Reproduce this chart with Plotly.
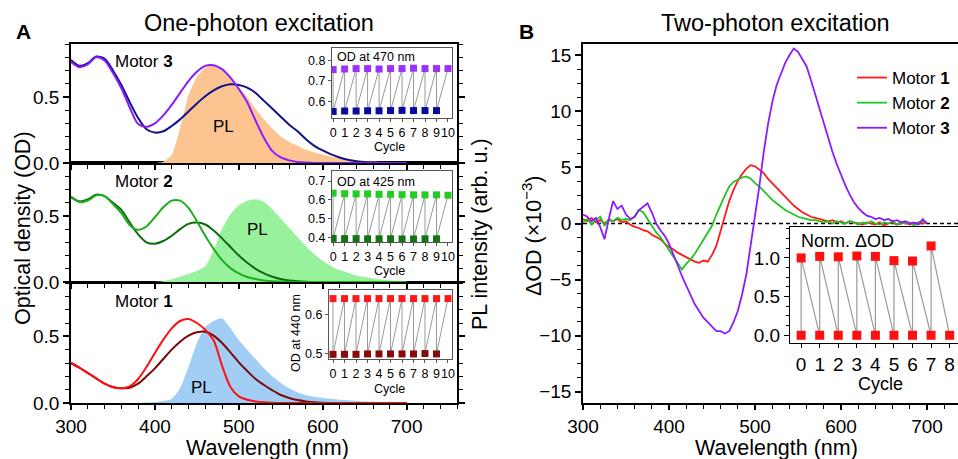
import plotly.graph_objects as go

W, H = 958, 459

# ---------------- panel A: one-photon spectra, read every 10 nm ----------------
wl_a = list(range(300, 710, 10))

# Motor 3 (OD) - two isomers + PL
m3_violet = [0.765, 0.725, 0.745, 0.800, 0.775, 0.680, 0.565, 0.420, 0.295, 0.275,
             0.300, 0.360, 0.440, 0.530, 0.620, 0.690, 0.735, 0.740, 0.710, 0.645,
             0.560, 0.460, 0.320, 0.190, 0.090, 0.042, 0.020, 0.008, 0.003, 0,
             0, 0, 0, 0, 0, 0, 0, 0, 0, 0, 0]
m3_navy = [0.780, 0.735, 0.755, 0.805, 0.790, 0.700, 0.590, 0.460, 0.340, 0.255,
           0.230, 0.240, 0.280, 0.330, 0.390, 0.450, 0.505, 0.550, 0.580, 0.595,
           0.590, 0.570, 0.530, 0.470, 0.410, 0.350, 0.290, 0.240, 0.180, 0.130,
           0.095, 0.065, 0.042, 0.025, 0.014, 0.007, 0.003, 0.001, 0, 0, 0]
m3_pl = [0, 0, 0, 0, 0, 0, 0, 0, 0, 0,
         0.0, 0.01, 0.06, 0.26, 0.51, 0.65, 0.72, 0.74, 0.70, 0.64,
         0.57, 0.50, 0.41, 0.33, 0.26, 0.20, 0.16, 0.13, 0.10, 0.08,
         0.065, 0.05, 0.04, 0.03, 0.022, 0.016, 0.011, 0.007, 0.004, 0.002, 0]

# Motor 2
m2_light = [0.640, 0.605, 0.615, 0.655, 0.650, 0.590, 0.520, 0.430, 0.395, 0.420,
            0.490, 0.565, 0.615, 0.615, 0.560, 0.460, 0.350, 0.250, 0.165, 0.105,
            0.065, 0.038, 0.022, 0.012, 0.006, 0.003, 0.001, 0, 0, 0,
            0, 0, 0, 0, 0, 0, 0, 0, 0, 0, 0]
m2_dark = [0.645, 0.610, 0.625, 0.660, 0.650, 0.600, 0.545, 0.450, 0.360, 0.300,
           0.290, 0.310, 0.350, 0.400, 0.440, 0.450, 0.435, 0.390, 0.330, 0.265,
           0.200, 0.145, 0.100, 0.065, 0.040, 0.022, 0.012, 0.006, 0.002, 0,
           0, 0, 0, 0, 0, 0, 0, 0, 0, 0, 0]
m2_pl = [0, 0, 0, 0, 0, 0, 0, 0, 0, 0,
         0.0, 0.005, 0.02, 0.04, 0.06, 0.085, 0.12, 0.24, 0.40, 0.51,
         0.58, 0.615, 0.625, 0.605, 0.55, 0.48, 0.41, 0.34, 0.27, 0.21,
         0.16, 0.12, 0.09, 0.07, 0.05, 0.037, 0.026, 0.018, 0.011, 0.006, 0]

# Motor 1
m1_red = [0.300, 0.265, 0.225, 0.185, 0.145, 0.118, 0.110, 0.125, 0.180, 0.270,
          0.375, 0.475, 0.560, 0.615, 0.630, 0.600, 0.550, 0.470, 0.280, 0.120,
          0.050, 0.025, 0.012, 0.005, 0.002, 0, 0, 0, 0, 0,
          0, 0, 0, 0, 0, 0, 0, 0, 0, 0, 0]
m1_dark = [0.300, 0.265, 0.225, 0.185, 0.145, 0.120, 0.110, 0.115, 0.145, 0.200,
           0.260, 0.330, 0.400, 0.460, 0.505, 0.530, 0.535, 0.505, 0.450, 0.380,
           0.305, 0.240, 0.180, 0.135, 0.095, 0.060, 0.038, 0.022, 0.012, 0.005,
           0.002, 0, 0, 0, 0, 0, 0, 0, 0, 0, 0]
m1_pl = [0, 0, 0, 0, 0, 0, 0, 0, 0.0, 0.003,
         0.008, 0.015, 0.03, 0.11, 0.27, 0.45, 0.57, 0.615, 0.635, 0.56,
         0.47, 0.40, 0.33, 0.26, 0.20, 0.15, 0.11, 0.08, 0.06, 0.047,
         0.038, 0.031, 0.025, 0.02, 0.015, 0.011, 0.008, 0.005, 0.003, 0.001, 0]

# ---------------- panel B: two-photon dOD (x1e-3), read every 5 nm ----------------
wl_b = list(range(300, 705, 5))
dod_m1 = [0.4, 0.2, 0.5, 0.1, 0.3, 0.0, 0.3, 0.2, 0.4, 0.1,
          0.2, -0.1, -0.3, -0.4, -0.6, -0.7, -1.0, -1.2, -1.4, -1.8,
          -2.1, -2.3, -2.6, -2.8, -3.0, -3.2, -3.4, -3.5, -3.3, -3.4,
          -2.8, -2.0, -0.7, 0.6, 2.0, 3.0, 3.8, 4.4, 4.9, 5.2,
          5.1, 4.8, 4.5, 4.0, 3.6, 3.2, 2.8, 2.4, 2.0, 1.6,
          1.3, 1.0, 0.8, 0.6, 0.5, 0.4, 0.3, 0.2, 0.3, 0.1,
          0.2, 0.0, 0.2, 0.1, 0.0, -0.1, 0.1, 0.0, -0.1, 0.1,
          -0.2, 0.0, 0.1, -0.1, 0.0, 0.1, -0.1, 0.0, 0.1, 0.0,
          0.1]
dod_m2 = [0.1, 0.4, -0.1, 0.3, 0.6, -0.2, 0.4, 0.2, 0.5, 0.3,
          0.4, 0.3, 0.6, 1.2, 1.0, 0.4, -0.3, -0.8, -1.2, -1.8,
          -2.4, -2.9, -3.5, -4.1, -3.6, -3.2, -2.7, -2.1, -1.5, -0.9,
          -0.2, 0.8, 1.7, 2.5, 3.3, 3.7, 3.9, 4.1, 4.2, 4.0,
          3.6, 3.3, 2.9, 2.5, 2.1, 1.8, 1.5, 1.2, 1.0, 0.8,
          0.6, 0.5, 0.4, 0.3, 0.3, 0.2, 0.1, 0.2, 0.0, 0.2,
          0.1, 0.0, 0.2, 0.1, -0.1, 0.1, 0.0, 0.2, 0.0, -0.1,
          0.1, 0.0, 0.2, -0.1, 0.1, 0.0, 0.1, -0.2, 0.1, 0.2,
          0.1]
dod_m3 = [0.8, 0.6, 0.2, 0.5, -0.3, -1.4, 0.4, 2.0, 1.3, 1.6,
          0.8, 0.4, 0.6, 1.2, 1.5, 1.8, 1.0, 0.0, -0.6, -1.1,
          -1.8, -2.7, -3.7, -4.7, -5.5, -6.4, -7.2, -7.8, -8.4, -8.8,
          -9.2, -9.6, -9.6, -9.8, -9.6, -8.8, -7.8, -6.3, -4.5, -2.0,
          0.8, 3.3, 6.3, 8.8, 10.8, 12.3, 13.3, 14.3, 15.0, 15.6,
          15.3, 14.7, 14.0, 12.8, 11.5, 10.1, 8.9, 7.7, 6.4, 5.3,
          4.3, 3.4, 2.6, 1.9, 1.4, 1.0, 0.7, 0.6, 0.4, 0.5,
          0.3, 0.4, 0.2, 0.3, 0.1, 0.2, 0.0, 0.1, -0.1, 0.4,
          0.0]

# ---------------- insets: switching cycles ----------------
cycles_a = list(range(11))
od470_hi = [0.755, 0.758, 0.760, 0.760, 0.758, 0.760, 0.760, 0.762, 0.760, 0.760, 0.760]
od470_lo = [0.552, 0.554, 0.554, 0.555, 0.555, 0.556, 0.557, 0.556, 0.556, 0.556]
od425_hi = [0.636, 0.633, 0.632, 0.632, 0.630, 0.630, 0.628, 0.627, 0.627, 0.627, 0.625]
od425_lo = [0.397, 0.396, 0.396, 0.395, 0.395, 0.395, 0.394, 0.394, 0.395, 0.395]
od440_hi = [0.640, 0.640, 0.640, 0.640, 0.640, 0.640, 0.640, 0.640, 0.640, 0.640, 0.640]
od440_lo = [0.497, 0.497, 0.497, 0.498, 0.498, 0.498, 0.498, 0.498, 0.499, 0.498]

cycles_b = list(range(9))
norm_hi = [1.00, 1.02, 1.015, 1.025, 1.02, 0.965, 0.96, 1.155]
norm_lo = [0, 0, 0, 0, 0, 0, 0, 0, 0]

FONT = "Liberation Sans, Arial, sans-serif"


def fx(p):
    return p / W


def fy(p):
    return 1 - p / H


def zigzag(first, second):
    xs, ys = [], []
    for i in range(len(first)):
        xs.append(i)
        ys.append(first[i])
        if i < len(second):
            xs.append(i)
            ys.append(second[i])
    return xs, ys


fig = go.Figure()

# panel A spectra: (axis suffix, pl, pl colour, [(curve, colour), ...])
panels = [
    ("3", m3_pl, "#fbc491", [(m3_navy, "#12128c"), (m3_violet, "#8c1cff")]),
    ("2", m2_pl, "#98f29c", [(m2_dark, "#0e6b0e"), (m2_light, "#1cae1c")]),
    ("", m1_pl, "#a2cdf5", [(m1_dark, "#7a0808"), (m1_red, "#ff1010")]),
]
for ax, pl, plc, curves in panels:
    fig.add_trace(go.Scatter(x=wl_a, y=pl, mode="lines", fill="tozeroy", fillcolor=plc,
                             line=dict(width=0, shape="spline", smoothing=0.6),
                             xaxis="x" + ax, yaxis="y" + ax, showlegend=False))
    for ys, c in curves:
        fig.add_trace(go.Scatter(x=wl_a, y=ys, mode="lines",
                                 line=dict(color=c, width=2, shape="spline", smoothing=0.8),
                                 xaxis="x" + ax, yaxis="y" + ax, showlegend=False))

# panel B
for ys, c, name in [(dod_m1, "#ff1a1a", "Motor <b>1</b>"),
                    (dod_m2, "#22c322", "Motor <b>2</b>"),
                    (dod_m3, "#8c1cff", "Motor <b>3</b>")]:
    fig.add_trace(go.Scatter(x=wl_b, y=ys, mode="lines", name=name,
                             line=dict(color=c, width=1.8),
                             xaxis="x4", yaxis="y4"))

# insets in panel A
insets = [("5", od470_hi, od470_lo, "#9b30ff", "#0a0a9c"),
          ("6", od425_hi, od425_lo, "#22cc22", "#127512"),
          ("7", od440_hi, od440_lo, "#ff1a1a", "#880a0a")]
for ax, hi, lo, c_hi, c_lo in insets:
    zx, zy = zigzag(hi, lo)
    fig.add_trace(go.Scatter(x=zx, y=zy, mode="lines", line=dict(color="#9a9a9a", width=1),
                             xaxis="x" + ax, yaxis="y" + ax, showlegend=False))
    fig.add_trace(go.Scatter(x=cycles_a, y=hi, mode="markers",
                             marker=dict(symbol="square", size=7, color=c_hi),
                             xaxis="x" + ax, yaxis="y" + ax, showlegend=False))
    fig.add_trace(go.Scatter(x=cycles_a[:len(lo)], y=lo, mode="markers",
                             marker=dict(symbol="square", size=7, color=c_lo),
                             xaxis="x" + ax, yaxis="y" + ax, showlegend=False))

# inset in panel B
zx, zy = zigzag(norm_lo, norm_hi)
fig.add_trace(go.Scatter(x=zx, y=zy, mode="lines", line=dict(color="#9a9a9a", width=1.2),
                         xaxis="x8", yaxis="y8", showlegend=False))
fig.add_trace(go.Scatter(x=cycles_b[:len(norm_hi)], y=norm_hi, mode="markers",
                         marker=dict(symbol="square", size=9, color="#ff1010"),
                         xaxis="x8", yaxis="y8", showlegend=False))
fig.add_trace(go.Scatter(x=cycles_b, y=norm_lo, mode="markers",
                         marker=dict(symbol="square", size=9, color="#ff1010"),
                         xaxis="x8", yaxis="y8", showlegend=False))

# ---------------- axes ----------------
main_ax = dict(showline=True, linecolor="black", linewidth=1.5, showgrid=False, zeroline=False,
               ticks="outside", ticklen=6, tickwidth=1.5, tickcolor="black", automargin=False,
               tickangle=0, tickfont=dict(size=19, color="black"))
xa = dict(main_ax, range=[300, 760], domain=[fx(71), fx(457)], dtick=100, tick0=300, mirror=True,
          ticklen=5,
          minor=dict(dtick=20, ticks="outside", ticklen=4, tickwidth=1.2, tickcolor="black"))
ya = dict(main_ax, range=[0, 0.9], dtick=0.5, tickformat=".1f", mirror="ticks",
          minor=dict(dtick=0.1, ticks="outside", ticklen=4, tickwidth=1.2, tickcolor="black"))

inset_ax = dict(showline=True, linecolor="#555555", linewidth=1, showgrid=False, zeroline=False,
                ticks="outside", ticklen=3, tickwidth=1, tickcolor="#555555", mirror=True,
                automargin=False, tickangle=0, tickfont=dict(size=12.5, color="black"))

layout_axes = dict(
    xaxis=dict(xa, anchor="y"),
    yaxis=dict(ya, anchor="x", domain=[fy(403), fy(283)]),
    xaxis2=dict(xa, anchor="y2", showticklabels=False),
    yaxis2=dict(ya, anchor="x2", domain=[fy(282), fy(163)]),
    xaxis3=dict(xa, anchor="y3", showticklabels=False),
    yaxis3=dict(ya, anchor="x3", domain=[fy(163), fy(44)]),
    xaxis4=dict(main_ax, anchor="y4", domain=[fx(583), 1], range=[300, 736], dtick=100, tick0=300,
                mirror=True, ticklen=5,
                minor=dict(dtick=20, ticks="outside", ticklen=4, tickwidth=1.2, tickcolor="black")),
    yaxis4=dict(main_ax, anchor="x4", domain=[fy(403), fy(44)], range=[-16, 16], dtick=5,
                minor=dict(dtick=1.25, ticks="outside", ticklen=4, tickwidth=1.2, tickcolor="black")),
    xaxis5=dict(inset_ax, anchor="y5", domain=[fx(332), fx(452)], range=[-0.1, 10.35], dtick=1),
    yaxis5=dict(inset_ax, anchor="x5", domain=[fy(118), fy(48)], range=[0.52, 0.86], dtick=0.1,
                tickformat=".1f"),
    xaxis6=dict(inset_ax, anchor="y6", domain=[fx(332), fx(452)], range=[-0.1, 10.35], dtick=1),
    yaxis6=dict(inset_ax, anchor="x6", domain=[fy(242), fy(171)], range=[0.378, 0.753], dtick=0.1,
                tickformat=".1f"),
    xaxis7=dict(inset_ax, anchor="y7", domain=[fx(329), fx(452)], range=[-0.35, 10.35], dtick=1),
    yaxis7=dict(inset_ax, anchor="x7", domain=[fy(359), fy(290)], range=[0.485, 0.662], dtick=0.1,
                tickformat=".1f"),
    xaxis8=dict(main_ax, anchor="y8", domain=[fx(790), 1], range=[-0.6, 8.45], dtick=1,
                mirror=True, linewidth=1.2, ticklen=4, tickwidth=1.2),
    yaxis8=dict(main_ax, anchor="x8", domain=[fy(343), fy(227)], range=[-0.1, 1.4], dtick=0.5,
                tickformat=".1f", linewidth=1.2, ticklen=5, tickwidth=1.2,
                minor=dict(dtick=0.125, ticks="outside", ticklen=3, tickwidth=1, tickcolor="black")),
)


def label(text, x, y, size, xanchor="center", angle=0):
    return dict(text=text, x=fx(x), y=fy(y), xref="paper", yref="paper", showarrow=False,
                xanchor=xanchor, yanchor="middle", textangle=angle,
                font=dict(size=size, color="black", family=FONT))


annotations = [
    label("<b>A</b>", 23, 31, 21),
    label("<b>B</b>", 526, 31, 21),
    label("One-photon excitation", 259, 23, 23.5),
    label("Two-photon excitation", 775, 23, 23.5),
    label("Motor <b>3</b>", 113, 61, 17, xanchor="left"),
    label("Motor <b>2</b>", 113, 181, 17, xanchor="left"),
    label("Motor <b>1</b>", 113, 301, 17, xanchor="left"),
    label("PL", 223, 126, 17),
    label("PL", 257, 230, 17),
    label("PL", 201, 387, 17),
    label("Optical density (OD)", 23, 228, 21.5, angle=-90),
    label("PL intensity (arb. u.)", 480, 234, 21.5, angle=-90),
    label("ΔOD (×10<sup>−3</sup>)", 532, 236, 21.5, angle=-90),
    label("Wavelength (nm)", 267, 448, 21.5),
    label("Wavelength (nm)", 776, 448, 21.5),
    label("OD at 470 nm", 335, 57, 12.5, xanchor="left"),
    label("OD at 425 nm", 335, 182, 12.5, xanchor="left"),
    label("OD at 440 nm", 296, 333, 12.5, angle=-90),
    label("Cycle", 389, 147, 12.5),
    label("Cycle", 389, 271, 12.5),
    label("Cycle", 389, 389, 12.5),
    label("Norm. ΔOD", 799, 241, 18, xanchor="left"),
    label("Cycle", 880, 384, 18),
]

shapes = [
    # white backing of the panel B inset, hides curves running under it
    dict(type="rect", xref="x8 domain", yref="y8 domain", x0=0, x1=1, y0=0, y1=1,
         fillcolor="white", line=dict(width=0), layer="below"),
    dict(type="line", xref="x8 domain", yref="y8", x0=0, x1=1, y0=0, y1=0,
         line=dict(color="#999999", width=1.2, dash="dot"), layer="below"),
    dict(type="line", xref="x4 domain", yref="y4", x0=0, x1=1, y0=0, y1=0,
         line=dict(color="black", width=1.3, dash="4px,3px"), layer="below"),
]

fig.update_layout(
    width=W, height=H,
    margin=dict(l=0, r=0, t=0, b=0, autoexpand=False),
    paper_bgcolor="white", plot_bgcolor="white",
    font=dict(family=FONT, color="black"),
    annotations=annotations,
    shapes=shapes,
    legend=dict(x=fx(852), y=fy(60), xanchor="left", yanchor="top",
                bgcolor="rgba(0,0,0,0)", font=dict(size=17, family=FONT),
                tracegroupgap=0, itemwidth=30),
    **layout_axes,
)

# drop the default page margin so the figure sits at the window's top-left corner
fig.write_html("out.html", config={"displayModeBar": False},
               post_script="document.body.style.margin='0';document.body.style.overflow='hidden';")
